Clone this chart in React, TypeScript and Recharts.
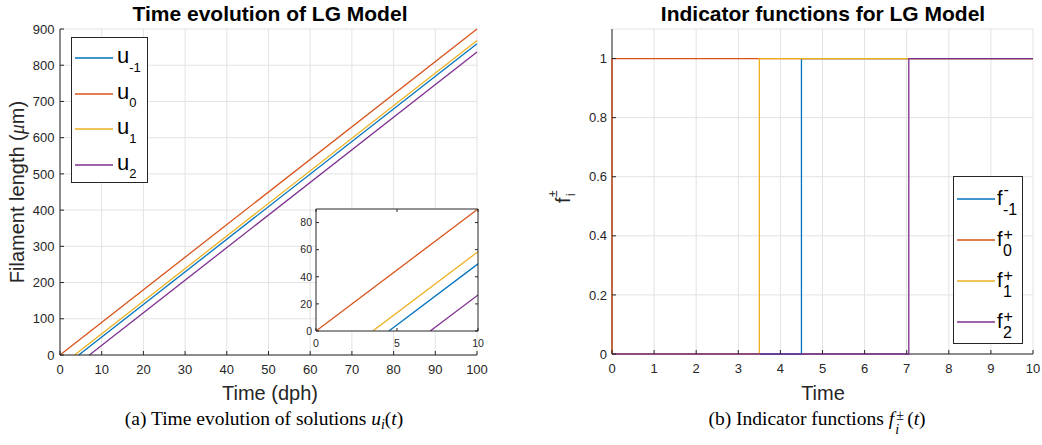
import React from 'react';
import { LineChart, Line, XAxis, YAxis, CartesianGrid, Legend } from 'recharts';

const BLUE = '#0072BD';
const RED = '#D95319';
const YELLOW = '#EDB120';
const PURPLE = '#7E2F8E';
const AXIS = '#262626';
const GRID = '#e3e3e3';
const SANS = '"Liberation Sans", Arial, Helvetica, sans-serif';
const SERIF = '"Liberation Serif", "Times New Roman", serif';

// u_i(t): each solution is a straight line from its start time to t = 100 dph
const uMinus1 = [{ t: 4.5, u: 0 }, { t: 100, u: 859.5 }];
const u0 = [{ t: 0, u: 0 }, { t: 100, u: 900 }];
const u1 = [{ t: 3.5, u: 0 }, { t: 100, u: 868.5 }];
const u2 = [{ t: 7.05, u: 0 }, { t: 100, u: 836.5 }];

// f_i(t): step functions (drawn with stepAfter)
const fMinus1 = [{ t: 0, f: 0 }, { t: 4.5, f: 1 }, { t: 10, f: 1 }];
const f0 = [{ t: 0, f: 0 }, { t: 0, f: 1 }, { t: 10, f: 1 }];
const f1 = [{ t: 0, f: 0 }, { t: 3.5, f: 1 }, { t: 10, f: 1 }];
const f2 = [{ t: 0, f: 0 }, { t: 7.05, f: 1 }, { t: 10, f: 1 }];

const mainTimeTicks = [0, 10, 20, 30, 40, 50, 60, 70, 80, 90, 100];
const lengthTicks = [0, 100, 200, 300, 400, 500, 600, 700, 800, 900];
const insetTimeTicks = [0, 5, 10];
const insetLengthTicks = [0, 20, 40, 60, 80];
const indicatorTimeTicks = [0, 1, 2, 3, 4, 5, 6, 7, 8, 9, 10];
const indicatorTicks = [0, 0.2, 0.4, 0.6, 0.8, 1];

const uSubs = ['-1', '0', '1', '2'];
const fSups = ['-', '+', '+', '+'];
const fSubs = ['-1', '0', '1', '2'];
const seriesColors = [BLUE, RED, YELLOW, PURPLE];

// ticks point inward (matlab style), so tickSize/tickMargin are 0 and we draw them here
const tickBottom = (len: number, size: number, dy: number) => (p: any) => (
  <g>
    <line x1={p.x} x2={p.x} y1={p.y} y2={p.y - len} stroke={AXIS} />
    <text x={p.x} y={p.y + dy} textAnchor="middle" fontSize={size} fill={AXIS} fontFamily={SANS}>
      {p.payload.value}
    </text>
  </g>
);

const tickLeft = (len: number, size: number, dx: number) => (p: any) => (
  <g>
    <line x1={p.x} x2={p.x + len} y1={p.y} y2={p.y} stroke={AXIS} />
    <text x={p.x - dx} y={p.y + size * 0.36} textAnchor="end" fontSize={size} fill={AXIS} fontFamily={SANS}>
      {p.payload.value}
    </text>
  </g>
);

const tickTop = (len: number) => (p: any) => (
  <line x1={p.x} x2={p.x} y1={p.y} y2={p.y + len} stroke={AXIS} />
);

const tickRight = (len: number) => (p: any) => (
  <line x1={p.x} x2={p.x - len} y1={p.y} y2={p.y} stroke={AXIS} />
);

function Swatch({ color, cy }: { color: string; cy: number }) {
  return (
    <svg width={40} height={6} style={{ position: 'absolute', left: 2, top: cy - 3 }}>
      <line x1={1} x2={39} y1={3} y2={3} stroke={color} strokeWidth={1.3} />
    </svg>
  );
}

function ULegend() {
  return (
    <div style={{ position: 'relative', width: 77, height: 146, border: `1px solid ${AXIS}`, background: '#fff', boxSizing: 'border-box', fontFamily: SANS }}>
      {uSubs.map((sub, i) => {
        const cy = 20 + i * 35.5;
        return (
          <React.Fragment key={sub}>
            <Swatch color={seriesColors[i]} cy={cy} />
            <div style={{ position: 'absolute', left: 45, top: cy - 12.9, fontSize: 22, lineHeight: 1, color: '#000', whiteSpace: 'nowrap' }}>
              u<span style={{ fontSize: 13, position: 'relative', top: 8.5 }}>{sub}</span>
            </div>
          </React.Fragment>
        );
      })}
    </div>
  );
}

function FLegend() {
  return (
    <div style={{ position: 'relative', width: 70, height: 168, border: `1px solid ${AXIS}`, background: '#fff', boxSizing: 'border-box', fontFamily: SANS }}>
      {fSubs.map((sub, i) => {
        const cy = 22 + i * 41;
        const sup = fSups[i];
        return (
          <React.Fragment key={sub}>
            <Swatch color={seriesColors[i]} cy={cy} />
            <div style={{ position: 'absolute', left: 43, top: cy - 10.9, fontSize: 20, lineHeight: 1, color: '#000', whiteSpace: 'nowrap' }}>
              f
              <span style={{ position: 'absolute', left: 6.5, top: sup === '-' ? -6 : -2.2, fontSize: 16 }}>{sup}</span>
              <span style={{ position: 'absolute', left: 6, top: 14, fontSize: 16 }}>{sub}</span>
            </div>
          </React.Fragment>
        );
      })}
    </div>
  );
}

const textAt = (cx: number, top: number, w = 500): React.CSSProperties => ({
  position: 'absolute',
  left: cx - w / 2,
  top,
  width: w,
  textAlign: 'center',
  lineHeight: 1,
  whiteSpace: 'nowrap',
});

export default function App() {
  const lineProps = { type: 'linear' as const, dot: false, activeDot: false, strokeWidth: 1.3, isAnimationActive: false };
  const stepProps = { ...lineProps, type: 'stepAfter' as const, zIndex: 600 };

  return (
    <div style={{ position: 'absolute', left: 0, top: 0, width: 1042, height: 445, background: '#fff', overflow: 'hidden' }}>
      {/* left: time evolution */}
      <div style={{ position: 'absolute', left: 0, top: 0 }}>
        <LineChart width={520} height={400} margin={{ top: 29, right: 43, bottom: 0, left: 0 }}>
          <CartesianGrid stroke={GRID} />
          <XAxis type="number" dataKey="t" domain={[0, 100]} ticks={mainTimeTicks} interval={0} height={45}
            tickSize={0} tickMargin={0} tickLine={false} axisLine={{ stroke: AXIS }} tick={tickBottom(4, 13, 18.5)} />
          <YAxis type="number" domain={[0, 900]} ticks={lengthTicks} interval={0} width={60}
            tickSize={0} tickMargin={0} tickLine={false} axisLine={{ stroke: AXIS }} tick={tickLeft(4, 13, 5.5)} />
          <Legend align="center" verticalAlign="middle" layout="vertical"
            wrapperStyle={{ left: 71, top: 37, width: 77, height: 146 }} content={() => <ULegend />} />
          <Line data={uMinus1} dataKey="u" name="u-1" stroke={BLUE} {...lineProps} />
          <Line data={u0} dataKey="u" name="u0" stroke={RED} {...lineProps} />
          <Line data={u1} dataKey="u" name="u1" stroke={YELLOW} {...lineProps} />
          <Line data={u2} dataKey="u" name="u2" stroke={PURPLE} {...lineProps} />
        </LineChart>
      </div>

      {/* inset: zoom on the first 10 dph */}
      <div style={{ position: 'absolute', left: 286, top: 200 }}>
        <LineChart width={200} height={150} margin={{ top: 8, right: 7, bottom: 0, left: 0 }}>
          <CartesianGrid fill="#fff" horizontal={false} vertical={false} />
          <XAxis xAxisId="b" type="number" dataKey="t" domain={[0, 10]} ticks={insetTimeTicks} interval={0} height={19}
            allowDataOverflow tickSize={0} tickMargin={0} tickLine={false} axisLine={{ stroke: AXIS }} tick={tickBottom(3, 10.5, 15.5)} />
          <XAxis xAxisId="t" orientation="top" type="number" dataKey="t" domain={[0, 10]} ticks={insetTimeTicks} interval={0} height={1}
            allowDataOverflow tickSize={0} tickMargin={0} tickLine={false} axisLine={{ stroke: AXIS }} tick={tickTop(3)} />
          <YAxis yAxisId="l" type="number" domain={[0, 90]} ticks={insetLengthTicks} interval={0} width={30}
            allowDataOverflow tickSize={0} tickMargin={0} tickLine={false} axisLine={{ stroke: AXIS }} tick={tickLeft(3, 10.5, 4)} />
          <YAxis yAxisId="r" orientation="right" type="number" domain={[0, 90]} ticks={insetLengthTicks} interval={0} width={1}
            allowDataOverflow tickSize={0} tickMargin={0} tickLine={false} axisLine={{ stroke: AXIS }} tick={tickRight(3)} />
          <Line xAxisId="b" yAxisId="l" data={uMinus1} dataKey="u" stroke={BLUE} {...lineProps} />
          <Line xAxisId="b" yAxisId="l" data={u0} dataKey="u" stroke={RED} {...lineProps} />
          <Line xAxisId="b" yAxisId="l" data={u1} dataKey="u" stroke={YELLOW} {...lineProps} />
          <Line xAxisId="b" yAxisId="l" data={u2} dataKey="u" stroke={PURPLE} {...lineProps} />
          <Line xAxisId="t" yAxisId="r" data={u0} dataKey="u" stroke="none" {...lineProps} />
        </LineChart>
      </div>

      {/* right: indicator functions */}
      <div style={{ position: 'absolute', left: 520, top: 0 }}>
        <LineChart width={522} height={400} margin={{ top: 29, right: 9, bottom: 0, left: 0 }}>
          <CartesianGrid stroke={GRID} />
          <XAxis type="number" dataKey="t" domain={[0, 10]} ticks={indicatorTimeTicks} interval={0} height={46}
            tickSize={0} tickMargin={0} tickLine={false} axisLine={{ stroke: AXIS }} tick={tickBottom(4, 13, 18.5)} />
          <YAxis type="number" domain={[0, 1.1]} ticks={indicatorTicks} interval={0} width={92}
            tickSize={0} tickMargin={0} tickLine={false} axisLine={{ stroke: AXIS }} tick={tickLeft(4, 13, 5)} />
          <Legend align="center" verticalAlign="middle" layout="vertical"
            wrapperStyle={{ left: 433, top: 176, width: 70, height: 168 }} content={() => <FLegend />} />
          <Line data={fMinus1} dataKey="f" name="f-1" stroke={BLUE} {...stepProps} />
          <Line data={f0} dataKey="f" name="f0" stroke={RED} {...stepProps} />
          <Line data={f1} dataKey="f" name="f1" stroke={YELLOW} {...stepProps} />
          <Line data={f2} dataKey="f" name="f2" stroke={PURPLE} {...stepProps} />
        </LineChart>
      </div>

      {/* titles */}
      <div style={{ ...textAt(270, 2.5), fontFamily: SANS, fontWeight: 'bold', fontSize: 21, color: '#000' }}>
        Time evolution of LG Model
      </div>
      <div style={{ ...textAt(823, 2.5), fontFamily: SANS, fontWeight: 'bold', fontSize: 21, color: '#000' }}>
        Indicator functions for LG Model
      </div>

      {/* axis labels */}
      <div style={{ ...textAt(270, 382.5, 300), fontFamily: SANS, fontSize: 20, color: AXIS }}>Time (dph)</div>
      <div style={{ ...textAt(823, 382.5, 300), fontFamily: SANS, fontSize: 20, color: AXIS }}>Time</div>
      <div style={{ ...textAt(17, 192, 300), fontFamily: SANS, fontSize: 20, color: AXIS, transform: 'translateY(-50%) rotate(-90deg)' }}>
        Filament length (<span style={{ fontFamily: SERIF, fontStyle: 'italic' }}>μ</span>m)
      </div>
      <div style={{ position: 'absolute', left: 553, top: 203, width: 24, height: 20, transform: 'rotate(-90deg)', transformOrigin: '0 0', fontFamily: SANS, fontSize: 20, lineHeight: 1, color: AXIS }}>
        <span style={{ position: 'absolute', left: 0, top: 0 }}>f</span>
        <span style={{ position: 'absolute', left: 6, top: -6, fontSize: 12 }}>±</span>
        <span style={{ position: 'absolute', left: 7, top: 12, fontSize: 12 }}>i</span>
      </div>

      {/* captions */}
      <div style={{ ...textAt(264, 408.5), fontFamily: SERIF, fontSize: 19.5, color: '#000' }}>
        (a) Time evolution of solutions <i>u</i>
        <span style={{ fontSize: 14, fontStyle: 'italic', position: 'relative', top: 4 }}>i</span>(<i>t</i>)
      </div>
      <div style={{ ...textAt(817, 408.5), fontFamily: SERIF, fontSize: 19.5, color: '#000' }}>
        (b) Indicator functions <i>f</i>
        <span style={{ display: 'inline-block', position: 'relative', width: 13, height: 10 }}>
          <span style={{ position: 'absolute', left: 2, top: -6, fontSize: 14 }}>±</span>
          <span style={{ position: 'absolute', left: 1, top: 8.5, fontSize: 14, fontStyle: 'italic' }}>i</span>
        </span>
        (<i>t</i>)
      </div>
    </div>
  );
}
